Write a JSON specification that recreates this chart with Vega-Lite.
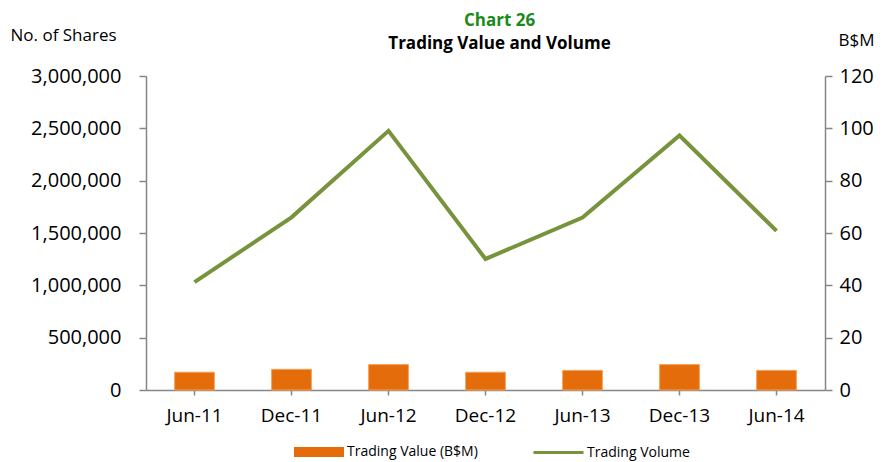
{
  "$schema": "https://vega.github.io/schema/vega-lite/v6.json",
  "width": 679,
  "height": 314,
  "autosize": "none",
  "padding": {"left": 146, "top": 76, "right": 64, "bottom": 72},
  "background": "white",
  "config": {
    "font": "Open Sans",
    "view": {"stroke": null},
    "axis": {"domainColor": "#868686", "domainWidth": 1.5, "tickColor": "#868686", "tickWidth": 1.5, "tickSize": 7, "labelColor": "#000000", "grid": false, "titleColor": "#000000", "titleFontWeight": "normal", "labelFont": "Open Sans", "titleFont": "Open Sans"}
  },
  "title": {
    "text": "Chart 26",
    "subtitle": "Trading Value and Volume",
    "color": "#1A8A1A",
    "fontSize": 17,
    "fontWeight": "bold",
    "subtitleColor": "#000000",
    "subtitleFontSize": 17,
    "subtitleFontWeight": "bold",
    "subtitleFont": "Open Sans",
    "subtitlePadding": 6,
    "anchor": "middle",
    "dx": 14,
    "dy": 37,
    "offset": 10
  },
  "data": {
    "values": [
      {"date": "Jun-11", "volume": 1030000, "value": 6.8},
      {"date": "Dec-11", "volume": 1650000, "value": 7.9},
      {"date": "Jun-12", "volume": 2476000, "value": 9.7},
      {"date": "Dec-12", "volume": 1252000, "value": 6.8},
      {"date": "Jun-13", "volume": 1647000, "value": 7.5},
      {"date": "Dec-13", "volume": 2431000, "value": 9.7},
      {"date": "Jun-14", "volume": 1520000, "value": 7.5}
    ]
  },
  "encoding": {
    "x": {
      "field": "date",
      "type": "nominal",
      "sort": null,
      "scale": {"paddingInner": 0.59, "paddingOuter": 0.295},
      "axis": {"title": null, "labelAngle": 0, "labelFontSize": 19, "labelPadding": 11, "tickSize": 5}
    }
  },
  "layer": [
    {
      "mark": {"type": "bar", "stroke": "#F5A05A", "strokeWidth": 1},
      "encoding": {
        "y": {
          "field": "value",
          "type": "quantitative",
          "scale": {"domain": [0, 120], "nice": false},
          "axis": {"orient": "right", "values": [0, 20, 40, 60, 80, 100, 120], "labelFontSize": 20, "labelPadding": 7, "title": "B$M", "titleAngle": 0, "titleAlign": "left", "titleBaseline": "middle", "titleX": 13, "titleY": -36, "titleFontSize": 17}
        },
        "fill": {"datum": "Trading Value (B$M)", "type": "nominal",
          "scale": {"domain": ["Trading Value (B$M)"], "range": ["#E46C0A"]},
          "legend": {
            "title": null,
            "orient": "none",
            "legendX": 148,
            "legendY": 351,
            "labelFontSize": 14,
            "labelFont": "Open Sans",
            "labelColor": "#000000",
            "labelOffset": 3,
            "symbolSize": 2500,
            "symbolStrokeWidth": 0,
            "symbolOpacity": 1,
            "symbolType": "M-1,-0.2H1V0.2H-1Z"
          }
        }
      }
    },
    {
      "mark": {"type": "line", "strokeWidth": 4},
      "encoding": {
        "y": {
          "field": "volume",
          "type": "quantitative",
          "scale": {"domain": [0, 3000000], "nice": false},
          "axis": {"orient": "left", "values": [0, 500000, 1000000, 1500000, 2000000, 2500000, 3000000], "format": ",d", "labelFontSize": 20, "labelPadding": 18, "title": "No. of Shares", "titleAngle": 0, "titleAlign": "left", "titleBaseline": "middle", "titleX": -136, "titleY": -41, "titleFontSize": 17}
        },
        "stroke": {"datum": "Trading Volume", "type": "nominal",
          "scale": {"domain": ["Trading Volume"], "range": ["#77933C"]},
          "legend": {
            "title": null,
            "orient": "none",
            "legendX": 386,
            "legendY": 350,
            "labelFontSize": 14,
            "labelFont": "Open Sans",
            "labelColor": "#000000",
            "labelOffset": 2,
            "symbolSize": 2500,
            "symbolStrokeWidth": 3,
            "symbolType": "stroke"
          }
        }
      }
    }
  ],
  "resolve": {"scale": {"y": "independent"}}
}
